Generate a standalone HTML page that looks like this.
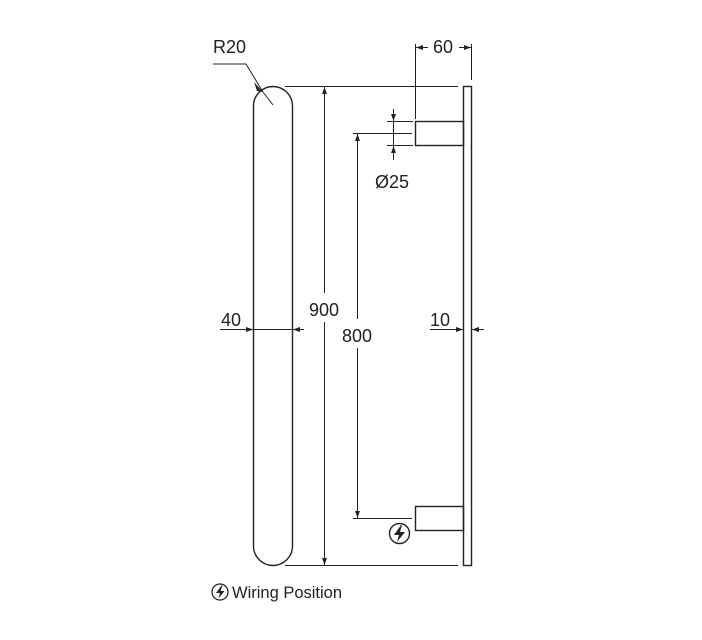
<!DOCTYPE html>
<html><head><meta charset="utf-8"><style>
html,body{margin:0;padding:0;background:#fff}
svg{display:block}
text{font-family:"Liberation Sans",sans-serif;fill:#222}
</style></head><body>
<svg width="702" height="640" viewBox="0 0 702 640" xmlns="http://www.w3.org/2000/svg">
<defs>
<marker id="a" viewBox="0 0 10 10" refX="10" refY="5" markerWidth="7" markerHeight="7" orient="auto-start-reverse" markerUnits="userSpaceOnUse"><path d="M0,1.5 L10,5 L0,8.5 z" fill="#222"/></marker>
</defs>
<g stroke="#222" fill="none" stroke-width="1">
<rect x="253.5" y="86.5" width="39" height="479" rx="19.5" ry="19.5" stroke-width="1.4"/>
<rect x="463.5" y="86.5" width="8" height="479" stroke-width="1.4"/>
<rect x="415.5" y="121.5" width="48" height="24" stroke-width="1.4"/>
<rect x="415.5" y="506.5" width="48" height="24" stroke-width="1.4"/>
<line x1="285" y1="86.5" x2="458" y2="86.5"/>
<line x1="285" y1="565.5" x2="458" y2="565.5"/>
<line x1="324.5" y1="293" x2="324.5" y2="87" marker-end="url(#a)"/>
<line x1="324.5" y1="322" x2="324.5" y2="565" marker-end="url(#a)"/>
<line x1="353" y1="133.5" x2="412" y2="133.5"/>
<line x1="353" y1="518.5" x2="412" y2="518.5"/>
<line x1="357.5" y1="319" x2="357.5" y2="134" marker-end="url(#a)"/>
<line x1="357.5" y1="348" x2="357.5" y2="518" marker-end="url(#a)"/>
<line x1="387" y1="121.5" x2="413" y2="121.5"/>
<line x1="387" y1="145.5" x2="413" y2="145.5"/>
<line x1="393.5" y1="109" x2="393.5" y2="121" marker-end="url(#a)"/>
<line x1="393.5" y1="160" x2="393.5" y2="146" marker-end="url(#a)"/>
<line x1="393.5" y1="121" x2="393.5" y2="146"/>
<line x1="415.5" y1="44" x2="415.5" y2="119"/>
<line x1="471.5" y1="44" x2="471.5" y2="80"/>
<line x1="428" y1="47.5" x2="416" y2="47.5" marker-end="url(#a)"/>
<line x1="459" y1="47.5" x2="471" y2="47.5" marker-end="url(#a)"/>
<line x1="220" y1="329.5" x2="253" y2="329.5" marker-end="url(#a)"/>
<line x1="253" y1="329.5" x2="292" y2="329.5"/>
<line x1="304" y1="329.5" x2="293" y2="329.5" marker-end="url(#a)"/>
<line x1="430" y1="329.5" x2="463" y2="329.5" marker-end="url(#a)"/>
<line x1="484" y1="329.5" x2="472" y2="329.5" marker-end="url(#a)"/>
<polyline points="213,64 246,64 263,92"/>
<line x1="263" y1="92" x2="273" y2="105"/>
<circle cx="399.5" cy="533.5" r="10" stroke-width="1.4"/>
<circle cx="220" cy="592" r="8" stroke-width="1.3"/>
</g>
<path d="M254,82 L263,92 L257,91 z" fill="#222"/>
<path d="M401,525 L394,535 L399,535 L397,542 L405,532 L400,532 L402,525 z" fill="#222"/>
<path d="M221.5,585.5 L216,593 L220,593 L218.5,598.5 L224.5,591 L220.5,591 L222.5,585.5 z" fill="#222"/>
<text x="213" y="53" font-size="18">R20</text>
<text x="443" y="53" font-size="18" text-anchor="middle">60</text>
<text x="392" y="188" font-size="18" text-anchor="middle">Ø25</text>
<text x="231" y="326" font-size="18" text-anchor="middle">40</text>
<text x="324" y="316" font-size="18" text-anchor="middle">900</text>
<text x="357" y="342" font-size="18" text-anchor="middle">800</text>
<text x="440" y="326" font-size="18" text-anchor="middle">10</text>
<text x="232" y="598" font-size="16.5">Wiring Position</text>
</svg>
</body></html>
